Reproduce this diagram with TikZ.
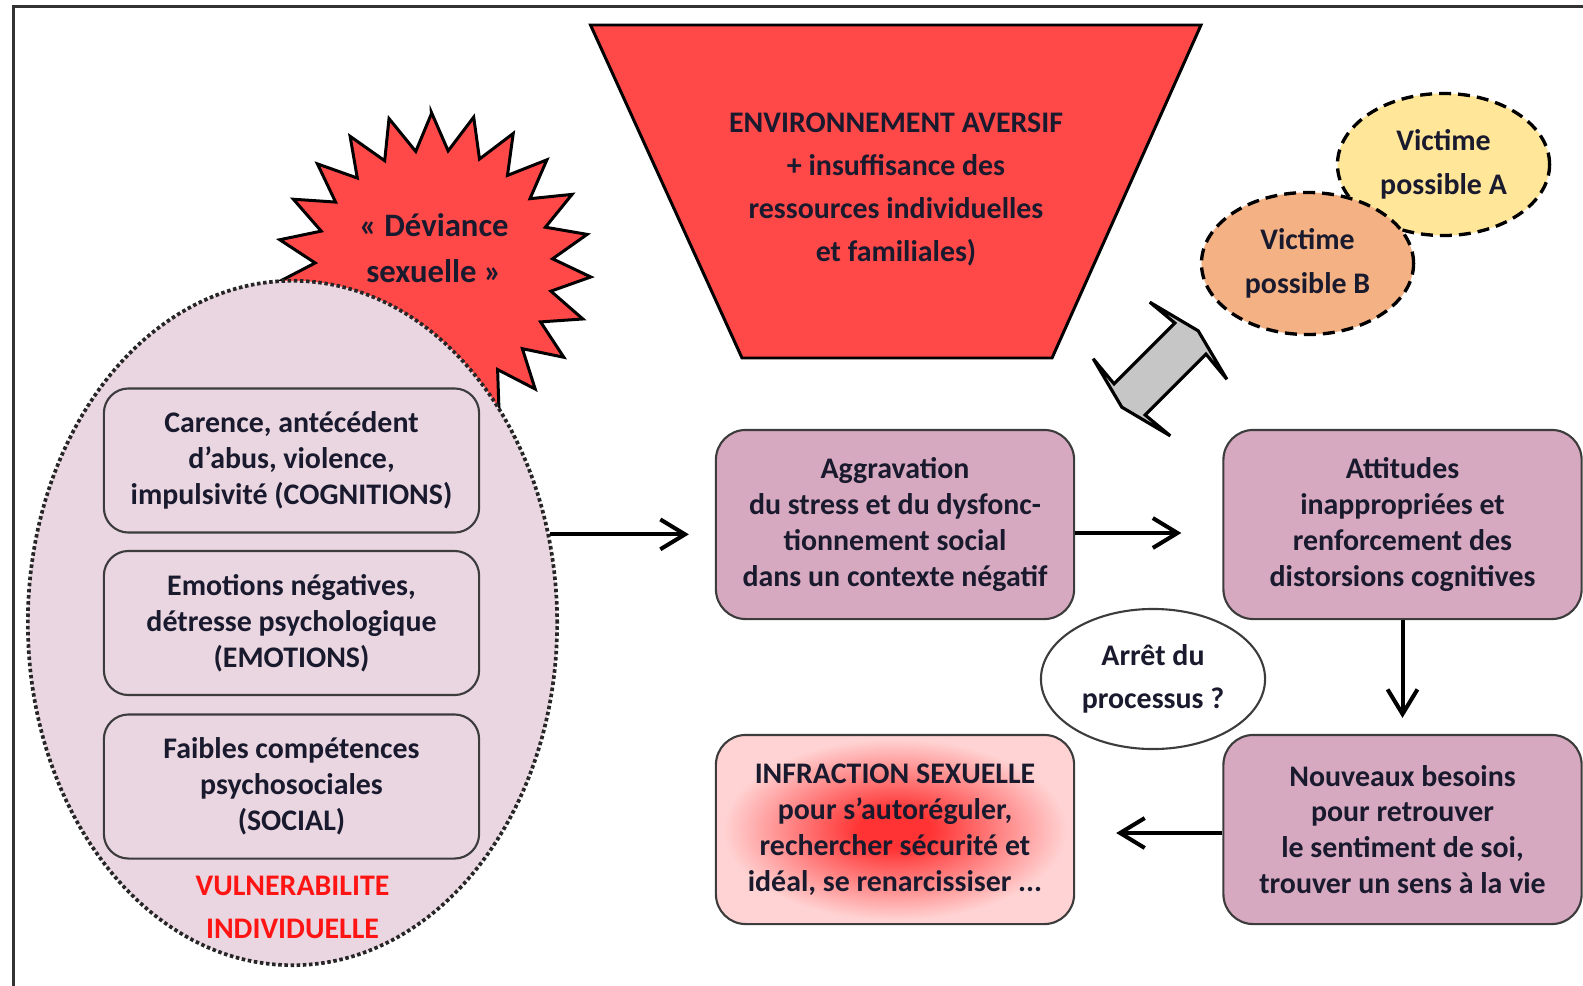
\documentclass[tikz,border=0pt]{standalone}
\usepackage{fontspec}
\setmainfont{Carlito}
\usetikzlibrary{arrows.meta,shapes.geometric}
\definecolor{ink}{HTML}{1A1A2E}
\definecolor{redfill}{HTML}{FF4848}
\definecolor{lpink}{HTML}{EAD6E1}
\definecolor{mauve}{HTML}{D7A9C0}
\definecolor{boxline}{HTML}{3C3C3C}
\definecolor{vicA}{HTML}{FFE699}
\definecolor{vicB}{HTML}{F4B183}
\definecolor{core}{HTML}{FF3333}
\definecolor{outerpink}{HTML}{FFD3D3}
\definecolor{grayarrow}{HTML}{C6C6C6}
\definecolor{vred}{HTML}{FF1414}
\definecolor{framec}{HTML}{333333}
\pgfdeclareradialshading{infrshade}{\pgfpoint{0bp}{0bp}}{color(0bp)=(core); color(5bp)=(core); color(24bp)=(outerpink); color(50bp)=(outerpink)}
\tikzset{
  txt/.style={font=\fontsize{8.5}{10.2}\selectfont\bfseries, text=ink, align=center},
  wtxt/.style={font=\fontsize{8.5}{12.3}\selectfont\bfseries, text=ink, align=center},
  lbox/.style={txt, draw=boxline, line width=0.6pt, fill=lpink, rounded corners=7pt,
    minimum width=3.75cm, minimum height=1.44cm, inner sep=0pt},
  mbox/.style={txt, draw=boxline, line width=0.6pt, fill=mauve, rounded corners=8.5pt,
    minimum width=3.58cm, minimum height=1.89cm, inner sep=0pt},
  vict/.style={ellipse, draw=black, line width=0.95pt, dash pattern=on 3.4pt off 2pt,
    font=\fontsize{8.5}{12.7}\selectfont\bfseries, text=ink, align=center,
    minimum width=2.12cm, minimum height=1.42cm, inner sep=0pt},
  arr/.style={draw=black, line width=1.15pt, -{Straight Barb[length=7pt,width=8.5pt]}},
  redshape/.style={draw=black, line width=0.85pt, fill=redfill, line join=miter},
}
\begin{document}
\begin{tikzpicture}[x=0.01cm, y=-0.01cm]
\useasboundingbox (0,0) rectangle (1583,985);
\clip (0,0) rectangle (1583,985);
\draw[draw=framec, line width=0.85pt] (13.5,6.5) rectangle (1700,1100);

% aversive environment
\draw[redshape] (590.5,25) -- (1201,25) -- (1052,358) -- (742,358) -- cycle;
\node[wtxt] (env) at (896,189.5) {ENVIRONNEMENT AVERSIF\\+ insuffisance des\\ressources individuelles\\et familiales)};

% starburst
\begin{scope}[shift={(434,269)}, yscale=-1]
\draw[redshape] (91:155) \foreach \i in {0,...,22} { -- ({91+(\i+0.5)*360/23}:119) -- ({91+(\i+1)*360/23}:157) } -- cycle;
\end{scope}

% individual vulnerability
\node[ellipse, draw=black!85, line width=1.05pt, dash pattern=on 1pt off 0.75pt, fill=lpink,
  minimum width=5.29cm, minimum height=6.84cm, inner sep=0pt] (vuln) at (292.5,623) {};
\node[font=\fontsize{9.3}{13}\selectfont\bfseries, text=ink, align=center] (dev) at (434,248) {« Déviance\\sexuelle »};

\node[lbox] (cog) at (291.5,460.5) {Carence, antécédent\\d’abus, violence,\\impulsivité (COGNITIONS)};
\node[lbox] (emo) at (291.5,623) {Emotions négatives,\\détresse psychologique\\(EMOTIONS)};
\node[lbox] (soc) at (291.5,786.5) {Faibles compétences\\psychosociales\\(SOCIAL)};
\node[font=\fontsize{8.5}{12.3}\selectfont\bfseries, text=vred, align=center] (vlbl) at (292.5,907.5) {VULNERABILITE\\INDIVIDUELLE};

% process boxes
\node[mbox] (agg) at (895,524.5) {Aggravation\\du stress et du dysfonc-\\tionnement social\\dans un contexte négatif};
\node[mbox] (att) at (1402.5,524.5) {Attitudes\\inappropriées et\\renforcement des\\distorsions cognitives};
\node[mbox] (nouv) at (1402.5,829.5) {Nouveaux besoins\\pour retrouver\\le sentiment de soi,\\trouver un sens à la vie};
\node[mbox, fill=none, shade, shading=infrshade] (infr) at (895,829.5) {INFRACTION SEXUELLE\\pour s’autoréguler,\\rechercher sécurité et\\idéal, se renarcissiser ...};

% stop ellipse
\node[ellipse, draw=boxline, line width=0.6pt, fill=white, wtxt,
  minimum width=2.24cm, minimum height=1.40cm, inner sep=0pt] (stop) at (1153,679) {Arrêt du\\processus ?};

% victims
\node[vict, fill=vicA] (va) at (1443.5,164.5) {Victime\\possible A};
\node[vict, fill=vicB] (vb) at (1307.5,263.5) {Victime\\possible B};

% double arrow
\begin{scope}[shift={(1160,369)}, rotate=45]
\draw[draw=black, line width=0.9pt, fill=grayarrow, line join=miter]
  (54,0) -- (40,54.5) -- (43,22) -- (-43,22) -- (-40,54.5) -- (-54,0)
  -- (-40,-54.5) -- (-43,-22) -- (43,-22) -- (40,-54.5) -- cycle;
\end{scope}

% connectors
\coordinate (ya) at (0,533);
\coordinate (yb) at (0,833);
\draw[arr, shorten >=0.26cm] (vuln.19.5) -- (vuln.19.5 -| agg.west);
\draw[arr, shorten >=0.41cm] (agg.east |- ya) -- (att.west |- ya);
\draw[arr, shorten >=0.16cm] (att.south) -- (nouv.north);
\draw[arr, shorten >=0.41cm] (nouv.west |- yb) -- (infr.east |- yb);
\end{tikzpicture}
\end{document}
